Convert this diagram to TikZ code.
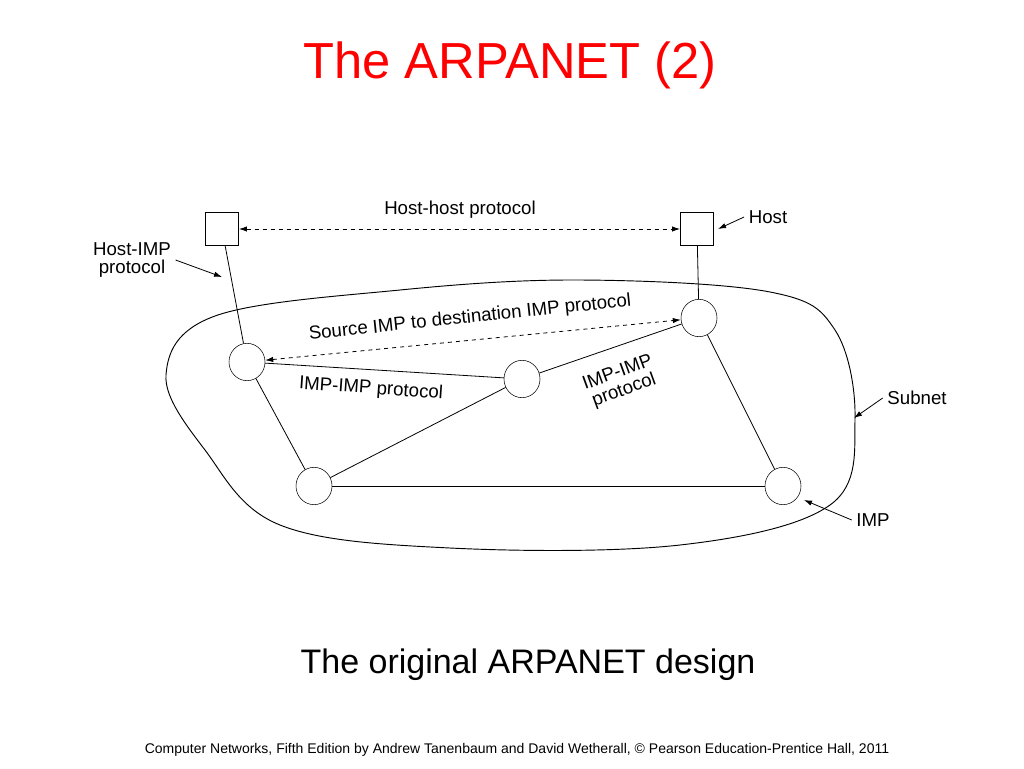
\documentclass[tikz,border=0pt]{standalone}
\usepackage{fontspec}
\setmainfont{Liberation Sans}
\usetikzlibrary{arrows.meta,shapes.geometric}
\begin{document}
\begin{tikzpicture}[x=0.75pt,y=-0.75pt,
  imp/.style={draw,ellipse,minimum width=27pt,minimum height=28pt,inner sep=0pt,fill=white},
  host/.style={draw,minimum size=25pt,inner sep=0pt,fill=white},
  lbl/.style={font=\fontsize{14}{14}\selectfont,align=center},
  ln/.style={line width=0.6pt},
  da/.style={dashed,line width=0.6pt,{Latex[length=6pt,width=4pt]}-{Latex[length=6pt,width=4pt]}},
  pa/.style={line width=0.6pt,-{Latex[length=6pt,width=4pt]}}]
\useasboundingbox (0,0) rectangle (1024,768);
\node[text=red,font=\fontsize{38}{44}\selectfont] (title) at (510,65) {The ARPANET (2)};
\draw[line width=0.7pt] plot[smooth cycle,tension=0.6] coordinates{(166,375) (215,316) (400,290) (580,280) (770,292) (835,330) (855,420) (830,505) (680,545) (450,548) (280,525) (205,450)};
\node[host] (h1) at (222,229) {};
\node[host] (h2) at (697,229) {};
\node[imp] (a) at (247,362) {};
\node[imp] (b) at (522,379) {};
\node[imp] (c) at (699,318) {};
\node[imp] (d) at (314,486) {};
\node[imp] (e) at (783,486) {};
\draw[ln] (h1) -- (a); \draw[ln] (h2) -- (c);
\draw[ln] (a) -- (b); \draw[ln] (b) -- (c); \draw[ln] (a) -- (d);
\draw[ln] (b) -- (d); \draw[ln] (c) -- (e); \draw[ln] (d) -- (e);
\draw[da] (h1) -- (h2);
\draw[da] (a) -- (c);
\node[lbl] (hh) at (460,210) {Host-host protocol};
\node[lbl] (hl) at (768,217) {Host};
\coordinate (hlt) at (718,229);
\draw[pa] (hl.west) -- (hlt);
\node[lbl] (hi) at (132,260) {Host-IMP\\protocol};
\coordinate (hit) at (222,277);
\draw[pa] (hi.east) -- (hit);
\node[lbl,rotate=6] (si) at (470,318) {Source IMP to destination IMP protocol};
\node[lbl,rotate=-4] (ii1) at (371,389) {IMP-IMP protocol};
\node[lbl,rotate=20] (ii2) at (621,382) {IMP-IMP\\protocol};
\node[lbl] (sn) at (917,398) {Subnet};
\coordinate (snt) at (854,418);
\draw[pa] (sn.west) -- (snt);
\node[lbl] (il) at (873,520) {IMP};
\coordinate (ilt) at (804,500);
\draw[pa] (il.west) -- (ilt);
\node[font=\fontsize{25.5}{30}\selectfont] (cap) at (528,665) {The original ARPANET design};
\node[font=\fontsize{10.5}{12}\selectfont] (ft) at (517,750) {Computer Networks, Fifth Edition by Andrew Tanenbaum and David Wetherall, © Pearson Education-Prentice Hall, 2011};
\end{tikzpicture}
\end{document}
